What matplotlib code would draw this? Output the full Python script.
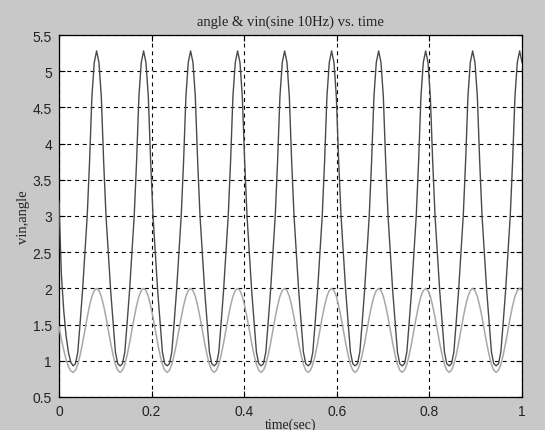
import numpy as np
import matplotlib
matplotlib.use("Agg")
import matplotlib.pyplot as plt

# Sampled signals over one second (198 samples, 20 per cycle)
t = np.linspace(0.0, 1.0, 198)

angle = [
    3.20, 2.20, 1.70, 1.35, 1.12, 0.98, 0.93, 0.96, 1.12, 1.53, 1.96, 2.48, 3.00, 3.75, 4.65, 5.12, 5.28, 5.12, 4.65, 3.75,
    3.00, 2.48, 1.96, 1.53, 1.12, 0.96, 0.93, 0.96, 1.12, 1.53, 1.96, 2.48, 3.00, 3.75, 4.65, 5.12, 5.28, 5.12, 4.65, 3.75,
    3.00, 2.48, 1.96, 1.53, 1.12, 0.96, 0.93, 0.96, 1.12, 1.53, 1.96, 2.48, 3.00, 3.75, 4.65, 5.12, 5.28, 5.12, 4.65, 3.75,
    3.00, 2.48, 1.96, 1.53, 1.12, 0.96, 0.93, 0.96, 1.12, 1.53, 1.96, 2.48, 3.00, 3.75, 4.65, 5.12, 5.28, 5.12, 4.65, 3.75,
    3.00, 2.48, 1.96, 1.53, 1.12, 0.96, 0.93, 0.96, 1.12, 1.53, 1.96, 2.48, 3.00, 3.75, 4.65, 5.12, 5.28, 5.12, 4.65, 3.75,
    3.00, 2.48, 1.96, 1.53, 1.12, 0.96, 0.93, 0.96, 1.12, 1.53, 1.96, 2.48, 3.00, 3.75, 4.65, 5.12, 5.28, 5.12, 4.65, 3.75,
    3.00, 2.48, 1.96, 1.53, 1.12, 0.96, 0.93, 0.96, 1.12, 1.53, 1.96, 2.48, 3.00, 3.75, 4.65, 5.12, 5.28, 5.12, 4.65, 3.75,
    3.00, 2.48, 1.96, 1.53, 1.12, 0.96, 0.93, 0.96, 1.12, 1.53, 1.96, 2.48, 3.00, 3.75, 4.65, 5.12, 5.28, 5.12, 4.65, 3.75,
    3.00, 2.48, 1.96, 1.53, 1.12, 0.96, 0.93, 0.96, 1.12, 1.53, 1.96, 2.48, 3.00, 3.75, 4.65, 5.12, 5.28, 5.12, 4.65, 3.75,
    3.00, 2.48, 1.96, 1.53, 1.12, 0.96, 0.93, 0.96, 1.12, 1.53, 1.96, 2.48, 3.00, 3.75, 4.65, 5.12, 5.28, 5.12,
]

vin = [
    1.47, 1.30, 1.15, 1.02, 0.92, 0.86, 0.84, 0.87, 0.95, 1.08, 1.24, 1.42, 1.60, 1.76, 1.89, 1.97, 2.00, 1.97, 1.89, 1.76,
    1.60, 1.42, 1.24, 1.08, 0.95, 0.87, 0.84, 0.87, 0.95, 1.08, 1.24, 1.42, 1.60, 1.76, 1.89, 1.97, 2.00, 1.97, 1.89, 1.76,
    1.60, 1.42, 1.24, 1.08, 0.95, 0.87, 0.84, 0.87, 0.95, 1.08, 1.24, 1.42, 1.60, 1.76, 1.89, 1.97, 2.00, 1.97, 1.89, 1.76,
    1.60, 1.42, 1.24, 1.08, 0.95, 0.87, 0.84, 0.87, 0.95, 1.08, 1.24, 1.42, 1.60, 1.76, 1.89, 1.97, 2.00, 1.97, 1.89, 1.76,
    1.60, 1.42, 1.24, 1.08, 0.95, 0.87, 0.84, 0.87, 0.95, 1.08, 1.24, 1.42, 1.60, 1.76, 1.89, 1.97, 2.00, 1.97, 1.89, 1.76,
    1.60, 1.42, 1.24, 1.08, 0.95, 0.87, 0.84, 0.87, 0.95, 1.08, 1.24, 1.42, 1.60, 1.76, 1.89, 1.97, 2.00, 1.97, 1.89, 1.76,
    1.60, 1.42, 1.24, 1.08, 0.95, 0.87, 0.84, 0.87, 0.95, 1.08, 1.24, 1.42, 1.60, 1.76, 1.89, 1.97, 2.00, 1.97, 1.89, 1.76,
    1.60, 1.42, 1.24, 1.08, 0.95, 0.87, 0.84, 0.87, 0.95, 1.08, 1.24, 1.42, 1.60, 1.76, 1.89, 1.97, 2.00, 1.97, 1.89, 1.76,
    1.60, 1.42, 1.24, 1.08, 0.95, 0.87, 0.84, 0.87, 0.95, 1.08, 1.24, 1.42, 1.60, 1.76, 1.89, 1.97, 2.00, 1.97, 1.89, 1.76,
    1.60, 1.42, 1.24, 1.08, 0.95, 0.87, 0.84, 0.87, 0.95, 1.08, 1.24, 1.42, 1.60, 1.76, 1.89, 1.97, 2.00, 1.97,
]

xticks = [0, 0.2, 0.4, 0.6, 0.8, 1]
xtick_labels = ["0", "0.2", "0.4", "0.6", "0.8", "1"]
yticks = [0.5, 1, 1.5, 2, 2.5, 3, 3.5, 4, 4.5, 5, 5.5]
ytick_labels = ["0.5", "1", "1.5", "2", "2.5", "3", "3.5", "4", "4.5", "5", "5.5"]

bg = "#c8c8c8"
fig = plt.figure(figsize=(5.45, 4.31), dpi=100, facecolor=bg)
ax = fig.add_axes([59 / 545, 33 / 431, 463 / 545, 362 / 431])
ax.set_facecolor("white")

ax.plot(t, vin, color="#a8a8a8", lw=1.1, zorder=3)
ax.plot(t, angle, color="#4a4a4a", lw=1.0, zorder=4)

ax.set_xlim(0, 1)
ax.set_ylim(0.5, 5.5)
ax.set_xticks(xticks)
ax.set_xticklabels(xtick_labels)
ax.set_yticks(yticks)
ax.set_yticklabels(ytick_labels)

for lab in ax.get_xticklabels() + ax.get_yticklabels():
    lab.set_fontfamily("Liberation Sans")
    lab.set_fontsize(10)

ax.tick_params(direction="in", length=4, width=0.8, top=True, right=True,
               colors="black", labelcolor="#222222")
ax.tick_params(axis="x", pad=5)
ax.tick_params(axis="y", pad=5)

ax.grid(True, color="black", linestyle=(0, (3.5, 3.5)), linewidth=0.8)
ax.set_axisbelow(False)
for s in ax.spines.values():
    s.set_color("black")
    s.set_linewidth(0.9)

label_font = {"family": "Liberation Serif", "size": 10.5, "color": "#222222"}
ax.set_title("angle & vin(sine 10Hz) vs. time", fontdict=label_font, pad=7)
ax.set_xlabel("time(sec)", fontdict={**label_font, "size": 10}, labelpad=0)
ax.set_ylabel("vin,angle", fontdict=label_font, labelpad=2)

fig.savefig("out.png", dpi=100, facecolor=bg)
